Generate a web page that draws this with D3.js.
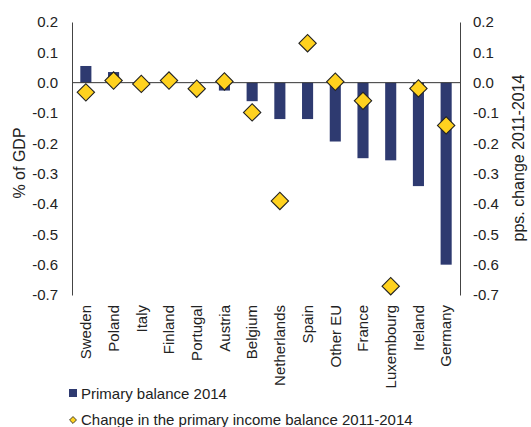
<!DOCTYPE html>
<html><head><meta charset="utf-8">
<script src="https://cdn.jsdelivr.net/npm/d3@7"></script>
<style>body{margin:0;background:#fff;} svg{display:block;font-family:"Liberation Sans",Arial,sans-serif;}</style>
</head><body><svg id="c" width="531" height="427"></svg>
<script>
const categories = ["Sweden","Poland","Italy","Finland","Portugal","Austria","Belgium","Netherlands","Spain","Other EU","France","Luxembourg","Ireland","Germany"];
const primaryBalance2014 = [0.055,0.035,0.0,0.0,0.0,-0.026,-0.061,-0.12,-0.12,-0.194,-0.249,-0.256,-0.341,-0.60];
const changePrimaryIncome = [-0.032,0.007,-0.004,0.007,-0.02,0.004,-0.098,-0.39,0.13,0.003,-0.06,-0.671,-0.019,-0.141];
const tickValues = [0.2,0.1,0.0,-0.1,-0.2,-0.3,-0.4,-0.5,-0.6,-0.7];
const leftTitle = "% of GDP";
const rightTitle = "pps. change 2011-2014";
const legendLabels = ["Primary balance 2014","Change in the primary income balance 2011-2014"];

const svg = d3.select("#c");
const textColor = "#222";
const barColor = "#2e3a70";
const diaColor = "#ffd21f";
const L = 72, R = 460, T = 22, B = 295;
const x = d3.scaleBand().domain(categories).range([L,R]).paddingInner(0.6).paddingOuter(0.3);
const y = d3.scaleLinear().domain([-0.7,0.2]).range([B,T]);

// bars
svg.append("g").selectAll("rect").data(categories).join("rect")
  .attr("x", d => x(d))
  .attr("width", x.bandwidth())
  .attr("y", (d,i) => y(Math.max(0, primaryBalance2014[i])))
  .attr("height", (d,i) => Math.abs(y(primaryBalance2014[i]) - y(0)))
  .attr("fill", barColor);

// zero line
svg.append("line").attr("x1", L).attr("x2", R).attr("y1", y(0)).attr("y2", y(0))
  .attr("stroke", "#333").attr("stroke-width", 1);

// axes
const fmt = d => d.toFixed(1);
const la = svg.append("g").attr("transform", `translate(${L},0)`)
  .call(d3.axisLeft(y).tickValues(tickValues).tickFormat(fmt).tickSize(0).tickPadding(14));
const ra = svg.append("g").attr("transform", `translate(${R},0)`)
  .call(d3.axisRight(y).tickValues(tickValues).tickFormat(fmt).tickSize(0).tickPadding(13));
[la, ra].forEach(g => {
  g.select(".domain").attr("stroke", "#444").attr("stroke-width", 1);
  g.selectAll("text").attr("font-size", 15).attr("fill", textColor).attr("font-family", "Liberation Sans, Arial, sans-serif");
});

// diamonds
const diamond = d3.symbol().type(d3.symbolSquare).size(150);
svg.append("g").selectAll("path").data(categories).join("path")
  .attr("d", diamond)
  .attr("transform", (d,i) => `translate(${x(d)+x.bandwidth()/2},${y(changePrimaryIncome[i])}) rotate(45)`)
  .attr("fill", diaColor).attr("stroke", "#222").attr("stroke-width", 1.1);

// category labels
svg.append("g").selectAll("text").data(categories).join("text")
  .attr("transform", d => `translate(${x(d)+x.bandwidth()/2},305) rotate(-90)`)
  .attr("text-anchor", "end").attr("dy", "0.35em")
  .attr("font-size", 15).attr("fill", textColor).text(d => d);

// axis titles
svg.append("text").attr("transform", "translate(25,163) rotate(-90)")
  .attr("text-anchor", "middle").attr("font-size", 16).attr("fill", textColor).text(leftTitle);
svg.append("text").attr("transform", "translate(524,158) rotate(-90)")
  .attr("text-anchor", "middle").attr("font-size", 16).attr("fill", textColor).text(rightTitle);

// legend
svg.append("rect").attr("x", 69).attr("y", 389).attr("width", 8).attr("height", 8).attr("fill", barColor);
svg.append("text").attr("x", 81).attr("y", 399).attr("font-size", 15).attr("fill", textColor).text(legendLabels[0]);
svg.append("path").attr("d", d3.symbol().type(d3.symbolSquare).size(24))
  .attr("transform", "translate(73,420) rotate(45)")
  .attr("fill", diaColor).attr("stroke", "#222").attr("stroke-width", 0.8);
svg.append("text").attr("x", 81).attr("y", 425).attr("font-size", 15).attr("fill", textColor).text(legendLabels[1]);
</script></body></html>
